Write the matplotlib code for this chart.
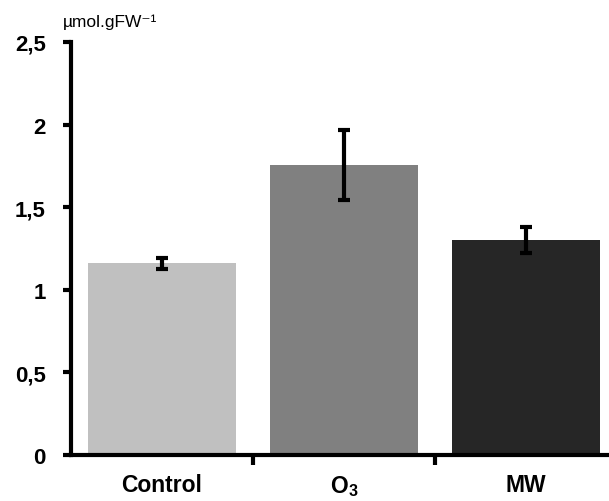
import matplotlib
matplotlib.use("Agg")
import matplotlib.pyplot as plt
from matplotlib.ticker import FixedLocator

categories = ["Control", "O$_3$", "MW"]
values = [1.16, 1.755, 1.30]
errors = [0.035, 0.21, 0.08]
colors = ["#c0c0c0", "#808080", "#262626"]
yticks = [0, 0.5, 1, 1.5, 2, 2.5]
ytick_labels = ["0", "0,5", "1", "1,5", "2", "2,5"]

plt.rcParams.update({
    "font.family": ["Liberation Sans", "DejaVu Sans"],
    "font.weight": "bold",
    "mathtext.fontset": "custom",
    "mathtext.rm": "Liberation Sans:bold",
    "mathtext.default": "rm",
})

fig = plt.figure(figsize=(6.09, 5.02), dpi=100)
ax = fig.add_axes([71 / 609, 1 - 456 / 502, 1 - 71 / 609, (456 - 43) / 502])

x = range(len(categories))
ax.bar(x, values, width=0.81, color=colors, zorder=2)
ax.errorbar(x, values, yerr=errors, fmt="none", ecolor="black",
            elinewidth=3, capsize=4, capthick=3, zorder=3)

ax.set_ylim(0, 2.5)
ax.set_xlim(-0.5, 2.456)
ax.set_yticks(yticks)
ax.set_yticklabels(ytick_labels, fontsize=16, fontweight="bold")
ax.set_xticks(list(x))
ax.set_xticklabels(categories, fontsize=16.5, fontweight="bold")
ax.tick_params(axis="x", which="major", length=0, pad=13)
ax.xaxis.set_minor_locator(FixedLocator([0.5, 1.5]))
ax.tick_params(axis="x", which="minor", length=7, width=3, direction="out")
ax.tick_params(axis="y", length=6, width=3, direction="out", pad=12)

for side in ("top", "right"):
    ax.spines[side].set_visible(False)
for side in ("left", "bottom"):
    ax.spines[side].set_linewidth(3)

fig.text(63 / 609, 1 - 22 / 502, "µmol.gFW⁻¹", fontsize=12.5,
         fontweight="normal", va="center", ha="left", color="black")

fig.savefig("out.png", dpi=100)
